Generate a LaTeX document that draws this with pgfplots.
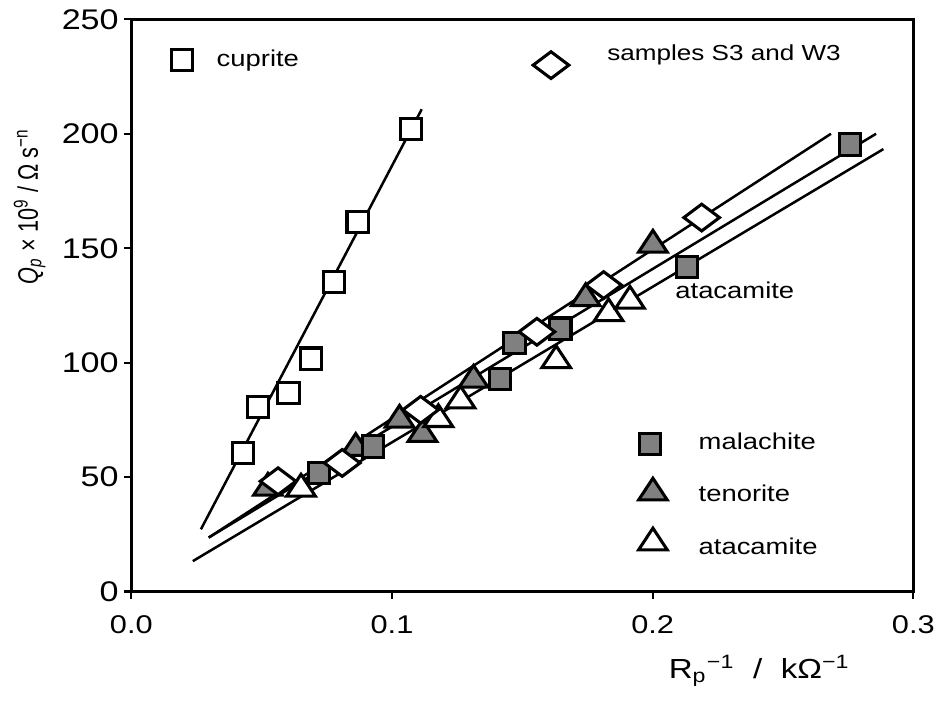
\documentclass[border=0pt]{standalone}
\usepackage{fontspec}
\setmainfont{Liberation Sans}[FakeStretch=1.2]
\newfontfamily\plainfont{Liberation Sans}
\usepackage{pgfplots}
\pgfplotsset{compat=1.18}
\definecolor{mgray}{RGB}{128,128,128}
\begin{document}
\begin{tikzpicture}
\begin{axis}[
  scale only axis, width=280.7pt, height=205.4pt,
  xmin=0, xmax=0.3, ymin=0, ymax=250,
  clip=false,
  axis line style={line width=1pt},
  xtick={0,0.1,0.2,0.3}, ytick={0,50,100,150,200,250},
  scaled x ticks=false,
  tick align=outside, major tick length=2.5pt,
  tick style={line width=0.8pt, black},
  xtick pos=lower, ytick pos=left,
  /pgf/number format/assume math mode=true,
  x tick label style={/pgf/number format/.cd, fixed, fixed zerofill, precision=1, /tikz/.cd, yshift=-2.5pt, font=\fontsize{9.2}{11}\selectfont},
  y tick label style={xshift=1.5pt, font=\fontsize{10.2}{12}\selectfont},
]
% fitted lines
\addplot[black, line width=0.9pt] coordinates {(0.0267,27.2) (0.1114,210.7)};
\addplot[black, line width=0.9pt] coordinates {(0.0297,23.6) (0.2684,200)};
\addplot[black, line width=0.9pt] coordinates {(0.0297,23.6) (0.2857,200)};
\addplot[black, line width=0.9pt] coordinates {(0.0236,13.3) (0.2885,193.3)};
% cuprite
\addplot[only marks, mark=square*, mark size=3.8pt, mark options={fill=white, draw=black, line width=1.1pt}]
  coordinates {(0.0428,60.4) (0.0486,80.6) (0.0603,86.8) (0.0689,101.8) (0.0778,135.1) (0.0868,161.6) (0.1072,202.2)};
% tenorite
\addplot[only marks, mark=triangle*, mark size=5.2pt, mark options={fill=mgray, draw=black, line width=1.1pt, xscale=1.14}]
  coordinates {(0.0524,45.3) (0.0861,62.7) (0.1029,75.0) (0.1117,68.8) (0.1313,92.5) (0.1743,128.1) (0.2001,151.5)};
% malachite
\addplot[only marks, mark=square*, mark size=3.8pt, mark options={fill=mgray, draw=black, line width=1.1pt}]
  coordinates {(0.0719,51.7) (0.0926,63.4) (0.1413,92.9) (0.1470,108.6) (0.1646,114.9) (0.2131,141.7) (0.2756,195.3)};
% atacamite
\addplot[only marks, mark=triangle*, mark size=5.2pt, mark options={fill=white, draw=black, line width=1.1pt, xscale=1.14}]
  coordinates {(0.0651,44.9) (0.1178,75.3) (0.1263,83.4) (0.1630,101.0) (0.1831,121.5) (0.1913,127.0)};
% samples S3 and W3
\addplot[only marks, mark=diamond*, mark size=6.4pt, mark options={fill=white, draw=black, line width=1.1pt, rotate=90}]
  coordinates {(0.0563,48.2) (0.0809,56.2) (0.1110,79.4) (0.1556,113.5) (0.1812,133.9) (0.2188,163.4)};
% legend-like markers
\addplot[only marks, mark=square*, mark size=3.8pt, mark options={fill=white, draw=black, line width=1.1pt}]
  coordinates {(0.0195,232.2)};
\addplot[only marks, mark=diamond*, mark size=6.4pt, mark options={fill=white, draw=black, line width=1.1pt, rotate=90}]
  coordinates {(0.161,230.0)};
\addplot[only marks, mark=square*, mark size=3.8pt, mark options={fill=mgray, draw=black, line width=1.1pt}]
  coordinates {(0.1989,64.5)};
\addplot[only marks, mark=triangle*, mark size=5.2pt, mark options={fill=mgray, draw=black, line width=1.1pt, xscale=1.14}]
  coordinates {(0.2001,43.2)};
\addplot[only marks, mark=triangle*, mark size=5.2pt, mark options={fill=white, draw=black, line width=1.1pt, xscale=1.14}]
  coordinates {(0.2001,21.4)};
% texts
\node[anchor=base west, font=\fontsize{8.2}{10}\selectfont, inner sep=0pt] at (rel axis cs:0.1085,0.918) {cuprite};
\node[anchor=base west, font=\fontsize{7.8}{9}\selectfont, inner sep=0pt] at (rel axis cs:0.608,0.9287) {samples S3 and W3};
\node[anchor=base west, font=\fontsize{8.2}{10}\selectfont, inner sep=0pt] at (rel axis cs:0.695,0.5118) {atacamite};
\node[anchor=base west, font=\fontsize{8.2}{10}\selectfont, inner sep=0pt] at (rel axis cs:0.7248,0.2482) {malachite};
\node[anchor=base west, font=\fontsize{8.2}{10}\selectfont, inner sep=0pt] at (rel axis cs:0.7248,0.157) {tenorite};
\node[anchor=base west, font=\fontsize{8.2}{10}\selectfont, inner sep=0pt] at (rel axis cs:0.7248,0.0656) {atacamite};
% axis labels
\node[anchor=base west, font=\fontsize{9.9}{12}\selectfont, inner sep=0pt] at (rel axis cs:0.6866,-0.1518)
  {R\textsubscript{p}\textsuperscript{−1}\ \ /\ \ kΩ\textsuperscript{−1}};
\node[anchor=base west, rotate=90, inner sep=0pt] at (rel axis cs:-0.1196,0.5357)
  {\scalebox{1}[1.3]{\plainfont\fontsize{7.8}{9}\selectfont\textit{Q}\textsubscript{\textit{p}} × 10\textsuperscript{9} / Ω s\textsuperscript{−n}}};
\coordinate (bl) at (rel axis cs:-0.1679,-0.1913);
\coordinate (tr) at (rel axis cs:1.0331,1.0278);
\end{axis}
\useasboundingbox (bl) rectangle (tr);
\end{tikzpicture}
\end{document}
